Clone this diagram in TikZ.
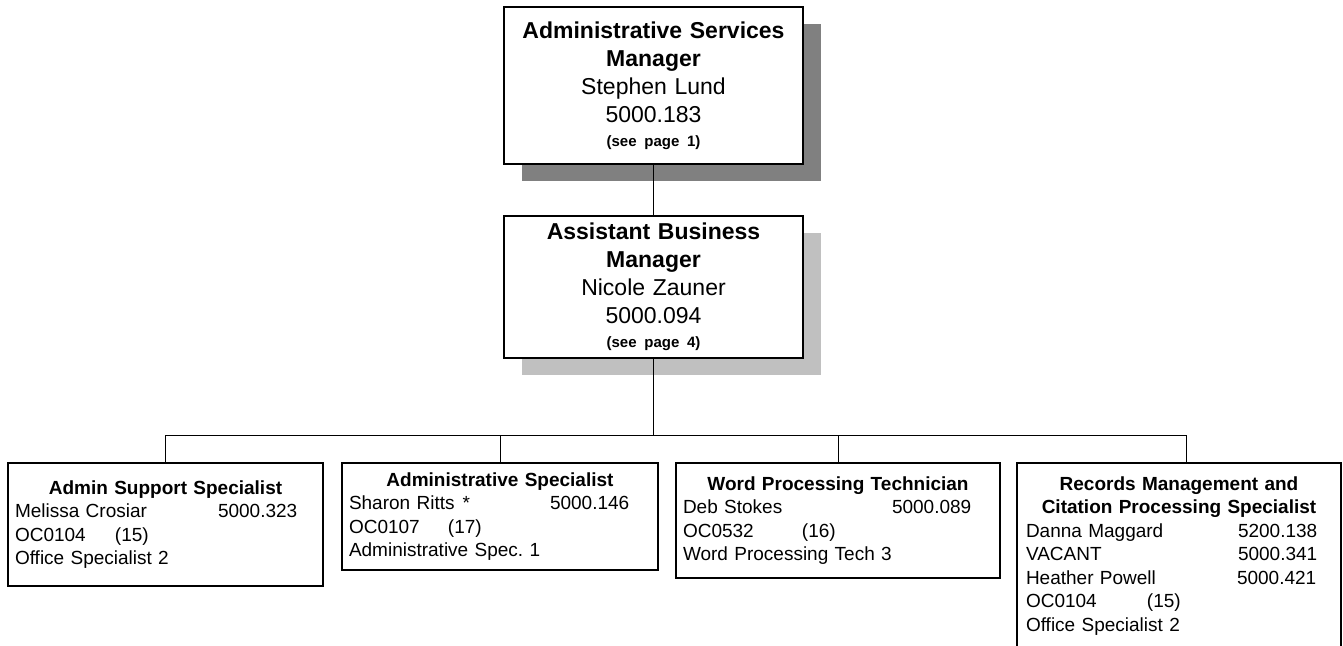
\documentclass[tikz,border=0pt]{standalone}
\usepackage{fontspec}
\setmainfont{Liberation Sans}
\usetikzlibrary{shadows}

\definecolor{shadedark}{HTML}{808080}
\definecolor{shadelight}{HTML}{C0C0C0}

\tikzset{
  conn/.style={line width=1pt},
  mgrbox/.style={draw, line width=1.2pt, fill=white, minimum width=299pt,
    minimum height=#1, text width=290pt, align=center, inner sep=0pt,
    font=\fontsize{23}{28}\selectfont},
  posbox/.style={draw, line width=1.2pt, fill=white, inner xsep=7pt, inner ysep=0pt,
    align=left, font=\fontsize{19}{23.5}\selectfont},
  shadowed/.style={drop shadow={shadow xshift=18pt, shadow yshift=-17pt, fill=#1, opacity=1}}
}

\begin{document}
\frenchspacing
\begin{tikzpicture}[x=1pt,y=-1pt]

\useasboundingbox (0,0) rectangle (1343,645);

% managers
\node[mgrbox=157pt, shadowed=shadedark] (asm) at (653.5,85.5)
  {{\bfseries Administrative Services\\ Manager}\\ Stephen Lund\\ 5000.183\\[-4pt]
   {\fontsize{15}{18}\selectfont\bfseries (see page 1)}};
\node[mgrbox=142pt, shadowed=shadelight] (abm) at (653.5,287)
  {{\bfseries Assistant Business\\ Manager}\\ Nicole Zauner\\ 5000.094\\[-4pt]
   {\fontsize{15}{18}\selectfont\bfseries (see page 4)}};

% positions
\node[posbox, text width=301pt, minimum height=123pt] (ass) at (165.5,524.5)
  {\makebox[\linewidth]{\bfseries Admin Support Specialist}\\
   \makebox[203pt][l]{Melissa Crosiar}5000.323\\
   \makebox[100pt][l]{OC0104}(15)\\
   Office Specialist 2};
\node[posbox, text width=302pt, minimum height=107pt] (ads) at (500,516.5)
  {\makebox[\linewidth]{\bfseries Administrative Specialist}\\
   \makebox[201pt][l]{Sharon Ritts\hspace{8pt}*}5000.146\\
   \makebox[99pt][l]{OC0107}(17)\\
   Administrative Spec. 1};
\node[posbox, text width=310pt, minimum height=115pt] (wpt) at (838,520.5)
  {\makebox[\linewidth]{\bfseries Word Processing Technician}\\
   \makebox[209pt][l]{Deb Stokes}5000.089\\
   \makebox[119pt][l]{OC0532}(16)\\
   Word Processing Tech 3};
\node[posbox, inner xsep=9pt, text width=306pt, minimum height=186pt] (rec) at (1179,556)
  {\makebox[\linewidth]{\bfseries Records Management and}\\
   \makebox[\linewidth]{\bfseries Citation Processing Specialist}\\
   \makebox[212pt][l]{Danna Maggard}5200.138\\
   \makebox[212pt][l]{VACANT}5000.341\\
   \makebox[211pt][l]{Heather Powell}5000.421\\
   \makebox[121pt][l]{OC0104}(15)\\
   Office Specialist 2};

% lines
\coordinate (bus) at (653.5,436);
\draw[conn] (asm) -- (abm);
\draw[conn] (abm) -- (bus);
\draw[conn] (ass.north) -- ++(0,-27) -| ([xshift=7pt]rec.north);
\foreach \n in {ads,wpt}
	\draw[conn] (\n.north) -- (\n.north |- bus);

\end{tikzpicture}
\end{document}
